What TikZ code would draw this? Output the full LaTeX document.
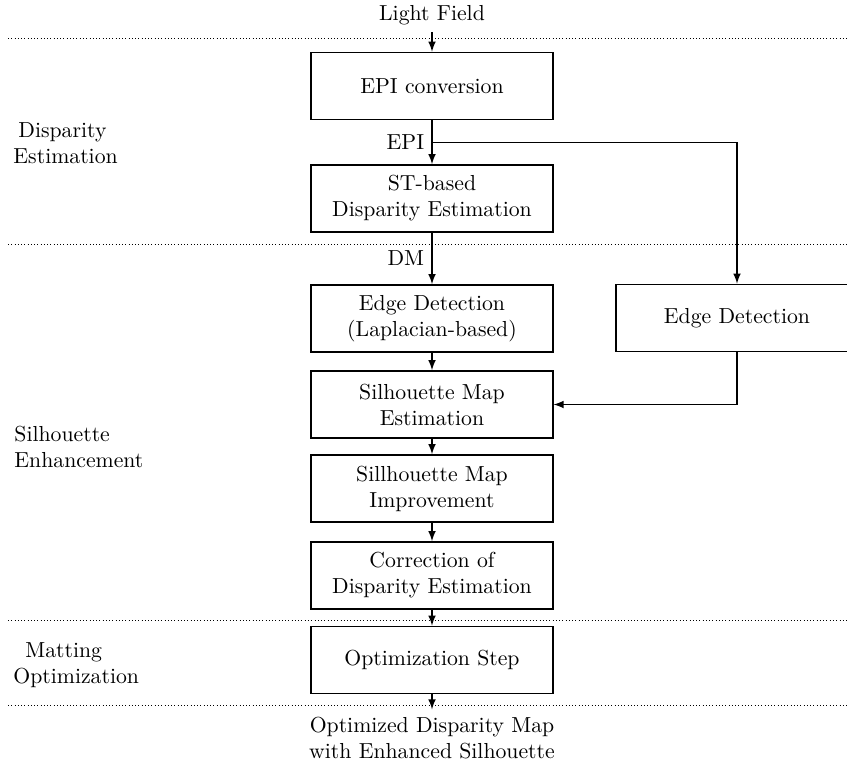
\documentclass[tikz,border=0pt]{standalone}
\usetikzlibrary{arrows,positioning,calc}

\begin{document}
\begin{tikzpicture}
[x=0.46pt,y=-0.46pt,
step box/.style={shape=rectangle,draw=black,thick,align=center,
  minimum width=111pt,minimum height=30.8pt,inner sep=2pt},
phase/.style={align=left,anchor=west,inner sep=0pt},
sep/.style={thin,dash pattern=on 0.4pt off 1.1pt},
flow/.style={->,>=latex,semithick}]
\useasboundingbox (0,0) rectangle (847,764);
%%
\node (lf) at (432,15) {Light Field};
\node (conv) [step box] at (432,86) {EPI conversion};
\node (st) [step box] at (432,198.5) {ST-based\\Disparity Estimation};
\node (edgel) [step box] at (432,318.5) {Edge Detection\\(Laplacian-based)};
\node (edger) [step box] at (737,318) {Edge Detection};
\node (sil) [step box] at (432,404.5) {Silhouette Map\\Estimation};
\node (impr) [step box] at (432,488.5) {Sillhouette Map\\Improvement};
\node (corr) [step box] at (432,575.5) {Correction of\\Disparity Estimation};
\node (opt) [step box] at (432,660) {Optimization Step};
\node (out) [align=center] at (432,738) {Optimized Disparity Map\\with Enhanced Silhouette};
%%
\node (p1) [phase] at (13,143) {\hspace{2.3pt}Disparity\\Estimation};
\node (p2) [phase] at (14,447) {Silhouette\\Enhancement};
\node (p3) [phase] at (13,665) {\hspace{5.5pt}Matting\\Optimization};
%%
\draw[sep] (8,38) -- (860,38);
\draw[sep] (8,244) -- (860,244);
\draw[sep] (8,620) -- (860,620);
\draw[sep] (8,705) -- (860,705);
%%
\draw[flow] (lf) -- (conv);
\draw[flow] (conv) -- node[midway,left] {EPI} coordinate[midway] (epi) (st);
\draw[flow] (epi) -| (edger);
\draw[flow] (st) -- node[midway,left] {DM} (edgel);
\draw[flow] (edgel) -- (sil);
\draw[flow] (edger.south) |- (sil.east);
\draw[flow] (sil) -- (impr);
\draw[flow] (impr) -- (corr);
\draw[flow] (corr) -- (opt);
\draw[flow] (opt) -- (out);
\end{tikzpicture}
\end{document}
